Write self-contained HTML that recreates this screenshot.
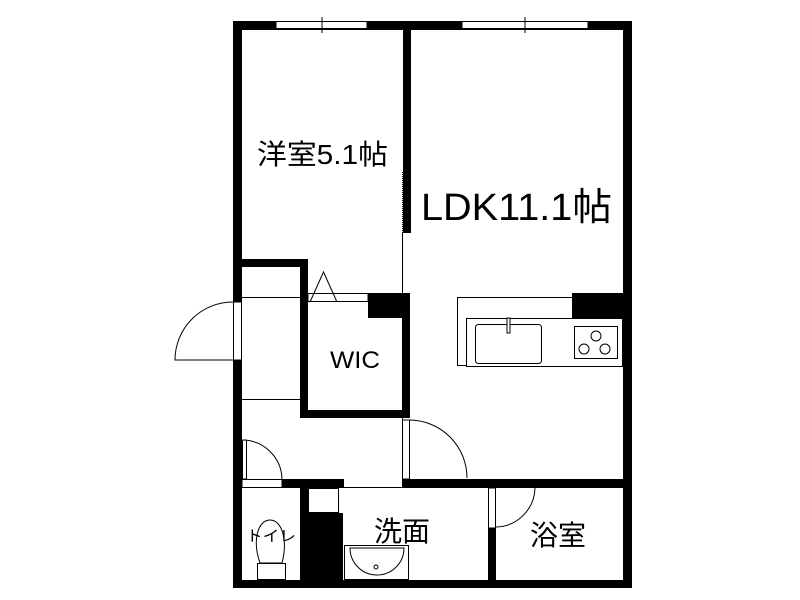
<!DOCTYPE html>
<html><head><meta charset="utf-8"><style>html,body{margin:0;padding:0;background:#fff}svg{display:block}</style></head><body>
<svg width="800" height="600" viewBox="0 0 800 600" xmlns="http://www.w3.org/2000/svg" font-family="Liberation Sans, Noto Sans CJK JP, sans-serif">
<rect width="800" height="600" fill="#fff"/>
<g fill="#000">
<rect x="233" y="21" width="399" height="9"/>
<rect x="233" y="21" width="9" height="567"/>
<rect x="623" y="21" width="9" height="567"/>
<rect x="233" y="580" width="399" height="8"/>
<rect x="403" y="29" width="8" height="204"/>
<rect x="233" y="259" width="75" height="8"/>
<rect x="300" y="259" width="8" height="42"/>
<rect x="300" y="300" width="8" height="118"/>
<rect x="300" y="410" width="110" height="8"/>
<rect x="402" y="293" width="8" height="125"/>
<rect x="368" y="293" width="42" height="25"/>
<rect x="282" y="479" width="62" height="9"/>
<rect x="402" y="479" width="230" height="9"/>
<rect x="300" y="488" width="8" height="92"/>
<rect x="308" y="513" width="35" height="67"/>
<rect x="488" y="488" width="8" height="92"/>
<rect x="572" y="293" width="51" height="25"/>
</g>
<g fill="#fff" stroke="#000" stroke-width="1">
<rect x="276" y="21.5" width="91" height="7"/>
<rect x="462" y="21.5" width="126" height="7"/>
<rect x="233.5" y="302" width="8" height="58"/>
<rect x="242" y="479.5" width="40" height="8"/>
<rect x="242.5" y="440" width="4" height="39"/>
<rect x="402.5" y="420" width="7" height="59"/>
<rect x="488.5" y="488" width="7" height="40"/>
<rect x="308" y="293.5" width="60" height="8"/>
<rect x="308.5" y="488.5" width="30" height="24"/>
<rect x="457.5" y="297.5" width="115" height="68"/>
<rect x="466.5" y="318.5" width="156" height="48"/>
<rect x="475.5" y="324.5" width="66" height="39" rx="3"/>
<rect x="507" y="318" width="3" height="15"/>
<rect x="574.5" y="326.5" width="43" height="32"/>
<circle cx="596" cy="336" r="5"/><circle cx="584" cy="349" r="5"/><circle cx="605" cy="349" r="5"/>
<rect x="344.5" y="545.5" width="64" height="34"/>
<path d="M350 548 H404 A27 27 0 0 1 350 548 Z"/>
<circle cx="376" cy="567" r="2"/>
<path d="M260 563 C252 540 258 520 270 520 C282 520 288 540 282 563 Z"/>
<rect x="257.5" y="563.5" width="28" height="16"/>
</g>
<g fill="none" stroke="#000" stroke-width="1">
<line x1="322" y1="17" x2="322" y2="33"/>
<line x1="525" y1="17" x2="525" y2="33"/>
<line x1="402.5" y1="172" x2="402.5" y2="293" stroke-dasharray="1 1"/>
<line x1="402.5" y1="233" x2="402.5" y2="293"/>
<path d="M233 302 A58 58 0 0 0 175 360 H233"/>
<line x1="242" y1="297.5" x2="300" y2="297.5"/>
<line x1="242" y1="399.5" x2="300" y2="399.5"/>
<path d="M242 440 A40 40 0 0 1 282 479"/>
<path d="M410 420 A58 58 0 0 1 467 478"/>
<path d="M535 488 A40 40 0 0 1 496 527"/>
<line x1="344" y1="487.5" x2="402" y2="487.5"/>
<line x1="410" y1="487.5" x2="465" y2="487.5" stroke-dasharray="1 1"/>
<line x1="402.5" y1="418" x2="402.5" y2="480"/>
<path d="M310 302 L323.5 272 L337 302"/>
</g>
<g fill="#000">
<text x="257" y="164" font-size="28" textLength="131" lengthAdjust="spacingAndGlyphs">洋室5.1帖</text>
<text x="421" y="220" font-size="38" textLength="191" lengthAdjust="spacingAndGlyphs">LDK11.1帖</text>
<text x="330" y="368" font-size="24" textLength="50" lengthAdjust="spacingAndGlyphs">WIC</text>
<text x="374" y="541" font-size="28">洗面</text>
<text x="530" y="545" font-size="28">浴室</text>
<text x="246" y="541" font-size="15" textLength="50" lengthAdjust="spacingAndGlyphs">トイレ</text>
</g>
</svg>
</body></html>
